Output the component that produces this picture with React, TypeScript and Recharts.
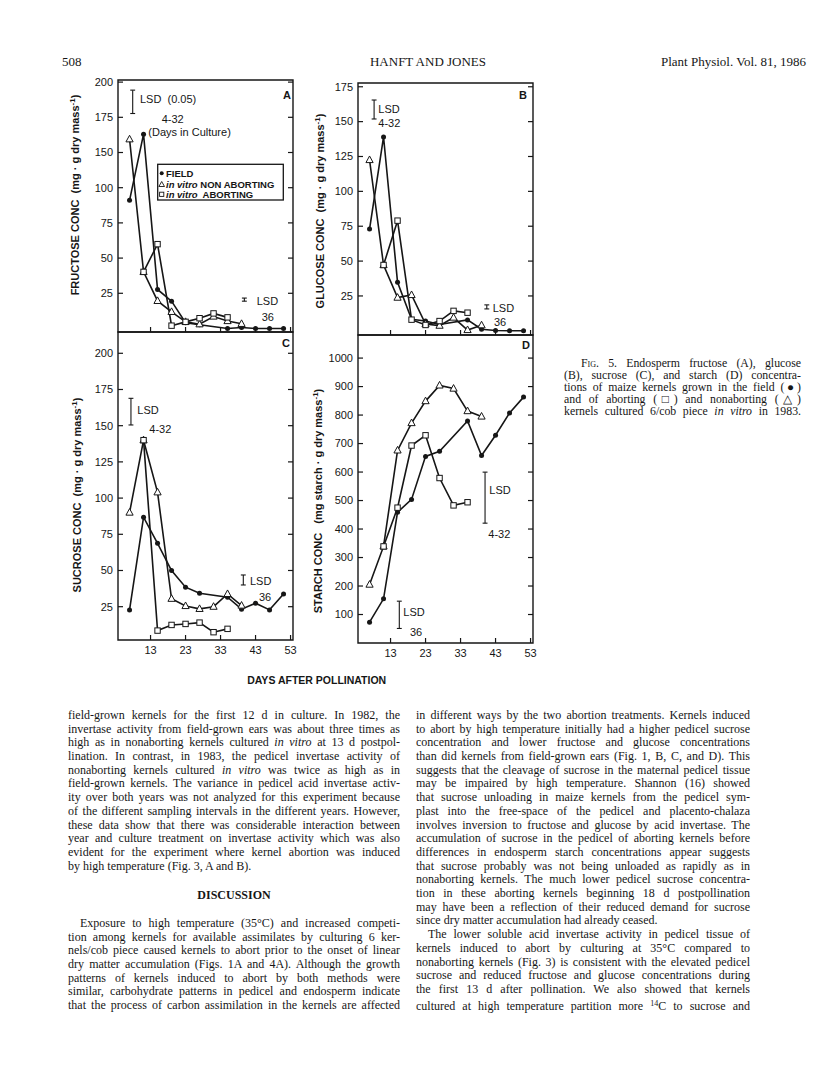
import React from 'react';
import { LineChart, Line, XAxis, YAxis, ReferenceArea, ReferenceLine } from 'recharts';

// sampling days (days after pollination)
const FIELD_DAYS = [7, 11, 15, 19, 23, 27, 35, 39, 43, 47, 51];
const NONABORT_DAYS = [7, 11, 15, 19, 23, 27, 31, 35, 39];
const ABORT_DAYS = [11, 15, 19, 23, 27, 31, 35];

// A - fructose. Values on the plotted scale (the printed labels jump 100 -> 150)
const A_FIELD = [91, 138, 27.7, 19.4, 4.1, 2.7, 0, 0.7, 0, 0, 0];
const A_NONABORT = [134.4, 40.2, 19.6, 11.8, 4.7, 3, 8.5, 5.3, 3.3];
const A_ABORT = [40.2, 59.9, 2, 4.7, 7.3, 10.7, 7.9];

// B - glucose
const B_FIELD = [73, 139, 34.8, 8.3, 7, 4.5, 7.8, 1.1, 0.2, 0, 0];
const B_NONABORT = [122.5, 47.2, 23.8, 25.7, 4.9, 3.7, 9.5, 0.6, 4];
const B_ABORT = [47.2, 79, 8, 4.2, 7, 14.3, 13];

// C - sucrose
const C_FIELD = [22.8, 86.8, 68.8, 50, 38.5, 34.3, 31.6, 23.3, 27.4, 22.8, 33.8];
const C_NONABORT = [90, 140, 104, 30.5, 25.5, 23.5, 25, 33.8, 25.8];
const C_ABORT = [140, 8.5, 12.4, 13.1, 14, 7.4, 9.7];

// D - starch
const D_FIELD = [73, 155, 459, 504, 655, 673, 779, 658, 729, 807, 863];
const D_NONABORT = [205, 339, 676, 772, 849, 904, 893, 814, 795];
const D_ABORT = [339, 475, 693, 729, 579, 483, 494];

const X_TICKS = [13, 23, 33, 43, 53];
const A_TICKS = [25, 50, 75, 100, 125, 150, 175];
const A_TICK_LABELS = ['25', '50', '75', '100', '150', '175', '200'];
const B_TICKS = [25, 50, 75, 100, 125, 150, 175];
const C_TICKS = [25, 50, 75, 100, 125, 150, 175, 200];
const D_TICKS = [100, 200, 300, 400, 500, 600, 700, 800, 900, 1000];

// LSD bars: [day, low, high]
const A_LSD = [[7.9, 152.7, 169.3], [39.8, 19.4, 21.6]];
const B_LSD = [[8.3, 151.9, 165.5], [40.5, 15.7, 18.6]];
const C_LSD = [[7.4, 150.5, 168.9], [39.5, 40, 46.9]];
const D_LSD = [[40, 420.6, 599.7], [15.5, 51, 146.8]];

const X_DOMAIN: [number, number] = [3.7, 53.7];
const INK = '#161616';
const SANS = '"Liberation Sans", Arial, Helvetica, sans-serif';
const SERIF = '"Liberation Serif", "Times New Roman", serif';

const pts = (days: number[], vals: number[]) => days.map((d, i) => ({ day: d, v: vals[i] }));

type Marker = 'dot' | 'tri' | 'sq';

function drawMarker(p: any, m: Marker) {
  const { cx, cy, index } = p;
  if (cx == null || cy == null) return <g key={index} />;
  if (m === 'dot') return <circle key={index} cx={cx} cy={cy} r={2.5} fill={INK} />;
  if (m === 'tri')
    return (
      <polygon
        key={index}
        points={`${cx},${cy - 4} ${cx - 3.6},${cy + 2.6} ${cx + 3.6},${cy + 2.6}`}
        fill="#fff"
        stroke={INK}
        strokeWidth={1}
      />
    );
  return <rect key={index} x={cx - 2.7} y={cy - 2.7} width={5.4} height={5.4} fill="#fff" stroke={INK} strokeWidth={1} />;
}

type PanelProps = {
  left: number;
  top: number;
  w: number;
  h: number;
  yDomain: [number, number];
  yTicks: number[];
  yLabels?: string[];
  xLabels: boolean;
  field: number[];
  nonabort: number[];
  abort: number[];
  lsd: number[][];
};

function Panel({ left, top, w, h, yDomain, yTicks, yLabels, xLabels, field, nonabort, abort, lsd }: PanelProps) {
  const YW = 40, MT = 5, MR = 5, XH = 22;
  const yTick = (p: any) => {
    const i = yTicks.indexOf(p.payload.value);
    return (
      <g>
        <line x1={YW} x2={YW + 5} y1={p.y} y2={p.y} stroke={INK} strokeWidth={1.2} />
        <line x1={YW + w - 5} x2={YW + w} y1={p.y} y2={p.y} stroke={INK} strokeWidth={1.2} />
        <text x={YW - 5} y={p.y} dy="0.35em" textAnchor="end" fontSize={11} fontFamily={SANS} fill={INK}>
          {yLabels ? yLabels[i] : p.payload.value}
        </text>
      </g>
    );
  };
  const xTick = (p: any) => (
    <g>
      <line x1={p.x} x2={p.x} y1={MT + h} y2={MT + h - 5} stroke={INK} strokeWidth={1.2} />
      {xLabels && (
        <text x={p.x} y={MT + h + 10} dy="0.35em" textAnchor="middle" fontSize={11} fontFamily={SANS} fill={INK}>
          {p.payload.value}
        </text>
      )}
    </g>
  );
  const series: [number[], number[], Marker][] = [
    [FIELD_DAYS, field, 'dot'],
    [NONABORT_DAYS, nonabort, 'tri'],
    [ABORT_DAYS, abort, 'sq'],
  ];
  return (
    <div style={{ position: 'absolute', left: left - YW, top: top - MT }}>
      <LineChart width={YW + w + MR} height={MT + h + XH} margin={{ top: MT, right: MR, bottom: 0, left: 0 }}>
        <XAxis
          type="number"
          dataKey="day"
          domain={X_DOMAIN}
          ticks={X_TICKS}
          allowDataOverflow
          axisLine={false}
          tickLine={false}
          tick={xTick}
          height={XH}
          interval={0}
        />
        <YAxis
          type="number"
          domain={yDomain}
          ticks={yTicks}
          allowDataOverflow
          axisLine={false}
          tickLine={false}
          tick={yTick}
          width={YW}
          interval={0}
        />
        <ReferenceArea
          x1={X_DOMAIN[0]}
          x2={X_DOMAIN[1]}
          y1={yDomain[0]}
          y2={yDomain[1]}
          fill="none"
          stroke={INK}
          strokeWidth={1.4}
        />
        {lsd.map(([d, lo, hi], i) => (
          <React.Fragment key={i}>
            <ReferenceLine segment={[{ x: d, y: lo }, { x: d, y: hi }]} stroke={INK} strokeWidth={1.1} />
            <ReferenceLine segment={[{ x: d - 0.7, y: lo }, { x: d + 0.7, y: lo }]} stroke={INK} strokeWidth={1.1} />
            <ReferenceLine segment={[{ x: d - 0.7, y: hi }, { x: d + 0.7, y: hi }]} stroke={INK} strokeWidth={1.1} />
          </React.Fragment>
        ))}
        {series.map(([days, vals, m]) => (
          <Line
            key={m}
            data={pts(days, vals)}
            dataKey="v"
            type="linear"
            stroke={INK}
            strokeWidth={1.6}
            dot={(p: any) => drawMarker(p, m)}
            activeDot={false}
            isAnimationActive={false}
          />
        ))}
      </LineChart>
    </div>
  );
}

function YTitle({ x, y, name, extra }: { x: number; y: number; name: string; extra?: string }) {
  return (
    <text
      transform={`translate(${x},${y}) rotate(-90)`}
      textAnchor="middle"
      dy="0.35em"
      fontSize={11}
      fontWeight="bold"
      fontFamily={SANS}
      fill={INK}
      xmlSpace="preserve"
    >
      {name}
      {'  '}(mg {extra ?? ''}· g dry mass
      <tspan dy={-4} fontSize={8}>
        -1
      </tspan>
      <tspan dy={4}>)</tspan>
    </text>
  );
}

const T = (x: number, y: number, s: string, size = 11, anchor: 'start' | 'middle' | 'end' = 'start', bold = false) => (
  <text x={x} y={y} dy="0.35em" fontSize={size} fontFamily={SANS} fill={INK} textAnchor={anchor} fontWeight={bold ? 'bold' : 'normal'}>
    {s}
  </text>
);

const LEFT_P1: React.ReactNode[] = [
  'field-grown kernels for the first 12 d in culture. In 1982, the',
  'invertase activity from field-grown ears was about three times as',
  <>high as in nonaborting kernels cultured <i>in vitro</i> at 13 d postpol-</>,
  'lination. In contrast, in 1983, the pedicel invertase activity of',
  <>nonaborting kernels cultured <i>in vitro</i> was twice as high as in</>,
  'field-grown kernels. The variance in pedicel acid invertase activ-',
  'ity over both years was not analyzed for this experiment because',
  'of the different sampling intervals in the different years. However,',
  'these data show that there was considerable interaction between',
  'year and culture treatment on invertase activity which was also',
  'evident for the experiment where kernel abortion was induced',
  'by high temperature (Fig. 3, A and B).',
];

const LEFT_P2: React.ReactNode[] = [
  'Exposure to high temperature (35°C) and increased competi-',
  'tion among kernels for available assimilates by culturing 6 ker-',
  'nels/cob piece caused kernels to abort prior to the onset of linear',
  'dry matter accumulation (Figs. 1A and 4A). Although the growth',
  'patterns of kernels induced to abort by both methods were',
  'similar, carbohydrate patterns in pedicel and endosperm indicate',
  'that the process of carbon assimilation in the kernels are affected',
];

const RIGHT_P1: React.ReactNode[] = [
  'in different ways by the two abortion treatments. Kernels induced',
  'to abort by high temperature initially had a higher pedicel sucrose',
  'concentration and lower fructose and glucose concentrations',
  'than did kernels from field-grown ears (Fig. 1, B, C, and D). This',
  'suggests that the cleavage of sucrose in the maternal pedicel tissue',
  'may be impaired by high temperature. Shannon (16) showed',
  'that sucrose unloading in maize kernels from the pedicel sym-',
  'plast into the free-space of the pedicel and placento-chalaza',
  'involves inversion to fructose and glucose by acid invertase. The',
  'accumulation of sucrose in the pedicel of aborting kernels before',
  'differences in endosperm starch concentrations appear suggests',
  'that sucrose probably was not being unloaded as rapidly as in',
  'nonaborting kernels. The much lower pedicel sucrose concentra-',
  'tion in these aborting kernels beginning 18 d postpollination',
  'may have been a reflection of their reduced demand for sucrose',
  'since dry matter accumulation had already ceased.',
];

const RIGHT_P2: React.ReactNode[] = [
  'The lower soluble acid invertase activity in pedicel tissue of',
  'kernels induced to abort by culturing at 35°C compared to',
  'nonaborting kernels (Fig. 3) is consistent with the elevated pedicel',
  'sucrose and reduced fructose and glucose concentrations during',
  'the first 13 d after pollination. We also showed that kernels',
  <>cultured at high temperature partition more <sup style={{ fontSize: 8, verticalAlign: 4 }}>14</sup>C to sucrose and</>,
];

const CAPTION: React.ReactNode[] = [
  <><span style={{ fontVariant: 'small-caps' }}>Fig.</span> 5. Endosperm fructose (A), glucose</>,
  '(B), sucrose (C), and starch (D) concentra-',
  'tions of maize kernels grown in the field (●)',
  'and of aborting (□) and nonaborting (△)',
  <>kernels cultured 6/cob piece <i>in vitro</i> in 1983.</>,
];

function Para({
  lines, left, top, width, size, lh, indent, lastOpen,
}: { lines: React.ReactNode[]; left: number; top: number; width: number; size: number; lh: number; indent: number; lastOpen: boolean }) {
  return (
    <div style={{ position: 'absolute', left, top, width, fontFamily: SERIF, fontSize: size, lineHeight: `${lh}px`, color: INK }}>
      {lines.map((ln, i) => {
        const last = lastOpen && i === lines.length - 1;
        return (
          <div
            key={i}
            style={{
              whiteSpace: 'nowrap',
              textAlign: last ? 'left' : 'justify',
              textAlignLast: last ? 'left' : 'justify',
              paddingLeft: i === 0 ? indent : 0,
              height: lh,
            }}
          >
            {ln}
          </div>
        );
      })}
    </div>
  );
}

export default function App() {
  return (
    <div style={{ position: 'absolute', left: 0, top: 0, width: 816, height: 1073, background: '#fff', overflow: 'hidden' }}>
      {/* running head */}
      <div style={{ position: 'absolute', left: 62, top: 54, fontFamily: SERIF, fontSize: 13, color: INK }}>508</div>
      <div style={{ position: 'absolute', left: 328, width: 200, textAlign: 'center', top: 54, fontFamily: SERIF, fontSize: 13, color: INK }}>
        HANFT AND JONES
      </div>
      <div style={{ position: 'absolute', right: 10, top: 54, fontFamily: SERIF, fontSize: 13, color: INK }}>Plant Physiol. Vol. 81, 1986</div>

      <Panel left={118} top={80} w={175} h={252} yDomain={[-2.5, 176.5]} yTicks={A_TICKS} yLabels={A_TICK_LABELS} xLabels={false}
        field={A_FIELD} nonabort={A_NONABORT} abort={A_ABORT} lsd={A_LSD} />
      <Panel left={358} top={83} w={175} h={252} yDomain={[-3, 177.7]} yTicks={B_TICKS} xLabels={false}
        field={B_FIELD} nonabort={B_NONABORT} abort={B_ABORT} lsd={B_LSD} />
      <Panel left={118} top={332} w={175} h={308} yDomain={[2, 214.7]} yTicks={C_TICKS} xLabels
        field={C_FIELD} nonabort={C_NONABORT} abort={C_ABORT} lsd={C_LSD} />
      <Panel left={358} top={335} w={175} h={308} yDomain={[0, 1081]} yTicks={D_TICKS} xLabels
        field={D_FIELD} nonabort={D_NONABORT} abort={D_ABORT} lsd={D_LSD} />

      <svg width={816} height={1073} style={{ position: 'absolute', left: 0, top: 0, pointerEvents: 'none' }}>
        <YTitle x={75} y={195} name="FRUCTOSE CONC" />
        <YTitle x={320} y={211} name="GLUCOSE CONC" />
        <YTitle x={77} y={495} name="SUCROSE CONC" />
        <YTitle x={318} y={501} name="STARCH CONC " extra="starch " />

        {T(287, 95, 'A', 11, 'middle', true)}
        {T(523, 95, 'B', 11, 'middle', true)}
        {T(286, 343, 'C', 11, 'middle', true)}
        {T(526, 345, 'D', 11, 'middle', true)}

        {/* A annotations */}
        <text x={140} y={99} dy="0.35em" fontSize={11} fontFamily={SANS} fill={INK} xmlSpace="preserve">LSD  (0.05)</text>
        {T(161.7, 119, '4-32')}
        {T(148.3, 132, '(Days in Culture)')}
        {T(256.7, 301, 'LSD')}
        {T(261.7, 317.5, '36')}

        {/* A legend */}
        <rect x={157.7} y={164.3} width={125.6} height={35.7} fill="#fff" stroke={INK} strokeWidth={1.3} />
        <circle cx={161.7} cy={173.3} r={2} fill={INK} />
        <polygon points="161.7,181.5 158.9,186.5 164.5,186.5" fill="none" stroke={INK} strokeWidth={0.9} />
        <rect x={159.6} y={192.2} width={4.2} height={4.2} fill="none" stroke={INK} strokeWidth={0.9} />
        <text x={166} y={173.3} dy="0.35em" fontSize={9.5} fontWeight="bold" fontFamily={SANS} fill={INK}>FIELD</text>
        <text x={166} y={184.3} dy="0.35em" fontSize={9.5} fontWeight="bold" fontFamily={SANS} fill={INK} xmlSpace="preserve">
          <tspan fontStyle="italic">in vitro</tspan> NON ABORTING
        </text>
        <text x={166} y={194.3} dy="0.35em" fontSize={9.5} fontWeight="bold" fontFamily={SANS} fill={INK} xmlSpace="preserve">
          <tspan fontStyle="italic">in vitro</tspan>  ABORTING
        </text>

        {/* B annotations */}
        {T(378.3, 109, 'LSD')}
        {T(378.3, 123, '4-32')}
        {T(492.7, 308, 'LSD')}
        {T(494, 322, '36')}

        {/* C annotations */}
        {T(137.3, 410.5, 'LSD')}
        {T(149.3, 429, '4-32')}
        {T(250, 581.3, 'LSD')}
        {T(259, 597.5, '36')}

        {/* D annotations */}
        {T(489.3, 490, 'LSD')}
        {T(488.3, 534, '4-32')}
        {T(403.3, 611.7, 'LSD')}
        {T(410, 632, '36')}

        {T(316.7, 680, 'DAYS AFTER POLLINATION', 10.5, 'middle', true)}
      </svg>

      <Para lines={CAPTION} left={564} top={357} width={237} size={11.8} lh={12} indent={17} lastOpen={false} />

      <Para lines={LEFT_P1} left={68} top={709} width={332} size={12} lh={13.7} indent={0} lastOpen />
      <div style={{ position: 'absolute', left: 68, width: 332, top: 888, textAlign: 'center', fontFamily: SERIF, fontSize: 12, fontWeight: 'bold', color: INK }}>
        DISCUSSION
      </div>
      <Para lines={LEFT_P2} left={68} top={917} width={332} size={12} lh={13.7} indent={12} lastOpen={false} />
      <Para lines={RIGHT_P1} left={416} top={709} width={334} size={12} lh={13.7} indent={0} lastOpen />
      <Para lines={RIGHT_P2} left={416} top={928.2} width={334} size={12} lh={13.7} indent={12} lastOpen={false} />
    </div>
  );
}
